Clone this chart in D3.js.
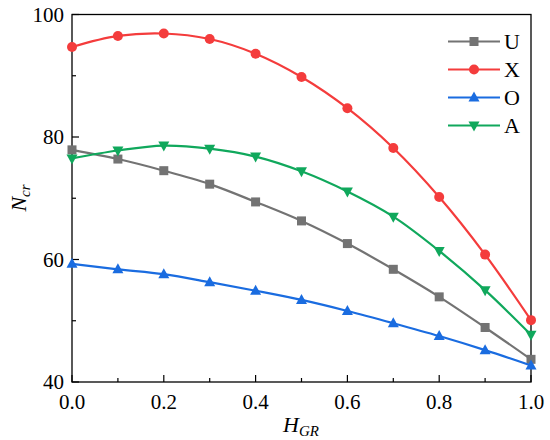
<!DOCTYPE html>
<html><head><meta charset="utf-8">
<script src="https://cdn.jsdelivr.net/npm/d3@7"></script>
<style>body{margin:0;background:#fff}svg{display:block}</style>
</head><body>
<svg id="c" width="550" height="440"></svg>
<script>
const xValues = [0.0,0.1,0.2,0.3,0.4,0.5,0.6,0.7,0.8,0.9,1.0];
const seriesU = [77.9,76.4,74.5,72.3,69.4,66.3,62.6,58.4,53.9,48.9,43.7];
const seriesX = [94.7,96.5,96.9,96.0,93.6,89.8,84.7,78.2,70.2,60.8,50.1];
const seriesO = [59.3,58.4,57.6,56.3,54.9,53.4,51.6,49.6,47.5,45.2,42.7];
const seriesA = [76.5,77.8,78.6,78.1,76.8,74.4,71.1,67.0,61.4,55.0,47.7];
const seriesNames = ["U","X","O","A"];
const xTicks = [0,0.2,0.4,0.6,0.8,1.0];
const yTicks = [40,60,80,100];

const colors = {U:"#737373", X:"#f43c3c", O:"#1a6ce0", A:"#10a85c"};
const symbols = {U:"square", X:"circle", O:"up", A:"down"};
const dataMap = {U:seriesU, X:seriesX, O:seriesO, A:seriesA};

const svg = d3.select("#c");
const L=72, R=531, T=14.5, B=382;
const x = d3.scaleLinear().domain([0,1]).range([L,R]);
const y = d3.scaleLinear().domain([40,100]).range([B,T]);
const font = "'Liberation Serif','Times New Roman',serif";

// frame
svg.append("rect").attr("x",L).attr("y",T).attr("width",R-L).attr("height",B-T)
  .attr("fill","none").attr("stroke","#000").attr("stroke-width",1.3);

// y ticks (inward)
const yMinor = d3.range(40,101,10);
yMinor.forEach(v=>{
  const major = v%20===0;
  svg.append("line").attr("x1",L).attr("x2",L+(major?7:4)).attr("y1",y(v)).attr("y2",y(v))
    .attr("stroke","#000").attr("stroke-width",1.2);
});
yTicks.forEach(v=>{
  svg.append("text").attr("x",L-8).attr("y",y(v)+7).attr("text-anchor","end")
    .attr("font-family",font).attr("font-size",21).text(v);
});
// x ticks (inward)
d3.range(0,11).forEach(i=>{
  const v=i/10, major=i%2===0;
  svg.append("line").attr("x1",x(v)).attr("x2",x(v)).attr("y1",B).attr("y2",B-(major?7:4))
    .attr("stroke","#000").attr("stroke-width",1.2);
});
xTicks.forEach(v=>{
  svg.append("text").attr("x",x(v)).attr("y",409).attr("text-anchor","middle")
    .attr("font-family",font).attr("font-size",21).text(v.toFixed(1));
});

// axis labels
const xl = svg.append("text").attr("x",301).attr("y",432).attr("text-anchor","middle")
  .attr("font-family",font).attr("font-size",22).attr("font-style","italic");
xl.append("tspan").text("H");
xl.append("tspan").attr("font-size",15).attr("dy",4).text("GR");

const yl = svg.append("text").attr("transform","translate(26,198) rotate(-90)").attr("text-anchor","middle")
  .attr("font-family",font).attr("font-size",22).attr("font-style","italic");
yl.append("tspan").text("N");
yl.append("tspan").attr("font-size",15).attr("dy",4).text("cr");

function drawMarker(g, type, cx, cy, color){
  if(type==="square") g.append("rect").attr("x",cx-4.5).attr("y",cy-4.5).attr("width",9).attr("height",9).attr("fill",color);
  else if(type==="circle") g.append("circle").attr("cx",cx).attr("cy",cy).attr("r",5).attr("fill",color);
  else if(type==="up") g.append("path").attr("d",`M${cx},${cy-6}L${cx+5.5},${cy+4}L${cx-5.5},${cy+4}Z`).attr("fill",color);
  else g.append("path").attr("d",`M${cx},${cy+6}L${cx+5.5},${cy-4}L${cx-5.5},${cy-4}Z`).attr("fill",color);
}

const line = d3.line().x(d=>x(d[0])).y(d=>y(d[1])).curve(d3.curveCatmullRom.alpha(0.5));
const plot = svg.append("g");
seriesNames.forEach(name=>{
  const pts = xValues.map((xv,i)=>[xv,dataMap[name][i]]);
  plot.append("path").attr("d",line(pts)).attr("fill","none").attr("stroke",colors[name]).attr("stroke-width",2.2);
  pts.forEach(p=>drawMarker(plot,symbols[name],x(p[0]),y(p[1]),colors[name]));
});

// legend
seriesNames.forEach((name,i)=>{
  const ly = 41.5 + i*28;
  svg.append("line").attr("x1",448).attr("x2",500).attr("y1",ly).attr("y2",ly)
    .attr("stroke",colors[name]).attr("stroke-width",2.2);
  drawMarker(svg,symbols[name],474,ly,colors[name]);
  svg.append("text").attr("x",504).attr("y",ly+7.5).attr("font-family",font).attr("font-size",22).text(name);
});
</script>
</body></html>
